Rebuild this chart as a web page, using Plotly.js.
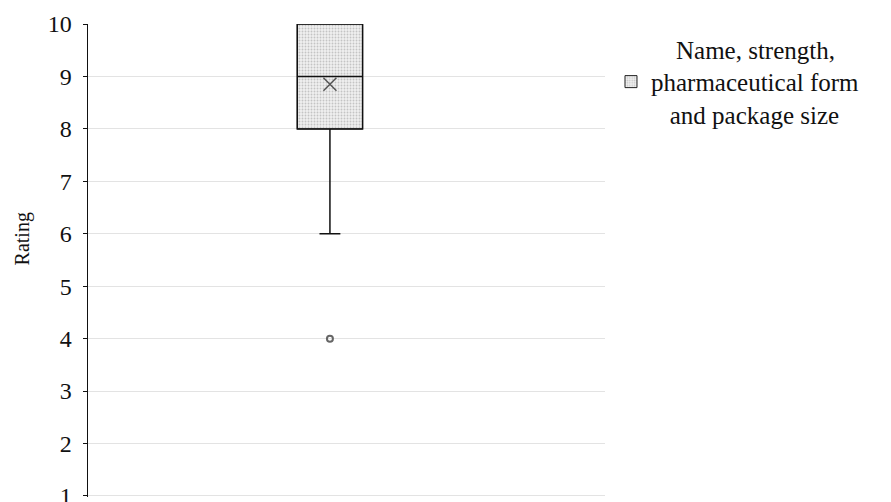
<!DOCTYPE html>
<html>
<head>
<meta charset="utf-8">
<script src="https://cdn.plot.ly/plotly-3.0.1.min.js"></script>
<style>html,body{margin:0;padding:0;background:#fff;}#chart{width:891px;height:502px;}</style>
</head>
<body>
<div id="chart"></div>
<script>
// Data
const seriesName = "\u00a0\u00a0\u00a0\u00a0Name, strength,<br>pharmaceutical form<br>\u00a0\u00a0\u00a0and package size";
const boxX = [0];
const q1 = [8];
const median = [9];
const q3 = [10];
const lowerFence = [6];
const upperFence = [10];
const meanValue = [8.85];
const outliers = [4];
const yTicks = [1, 2, 3, 4, 5, 6, 7, 8, 9, 10];

const serif = "Liberation Serif, Times New Roman, serif";
const boxWidth = 0.27;

const traces = [
  {
    type: 'bar',
    name: seriesName,
    x: boxX,
    base: q1,
    y: q3.map((v, i) => v - q1[i]),
    width: [boxWidth],
    marker: {
      color: '#efefef',
      line: {color: '#222', width: 1},
      pattern: {shape: '.', fgcolor: '#c4c4c4', bgcolor: '#f0f0f0', size: 3, solidity: 0.3}
    },
    showlegend: true,
    hoverinfo: 'skip'
  },
  {
    type: 'box',
    name: 'box',
    x: boxX,
    q1: q1,
    median: median,
    q3: q3,
    lowerfence: lowerFence,
    upperfence: upperFence,
    width: boxWidth,
    whiskerwidth: 0.32,
    boxpoints: false,
    fillcolor: 'rgba(0,0,0,0)',
    line: {color: '#111', width: 1.5},
    showlegend: false,
    hoverinfo: 'skip'
  },
  {
    type: 'scatter',
    mode: 'markers',
    x: boxX,
    y: meanValue,
    marker: {symbol: 'x-thin-open', size: 13, color: '#555', line: {color: '#555', width: 1.5}},
    showlegend: false,
    hoverinfo: 'skip'
  },
  {
    type: 'scatter',
    mode: 'markers',
    x: outliers.map(() => boxX[0]),
    y: outliers,
    marker: {symbol: 'circle-open', size: 6, color: '#666', line: {color: '#666', width: 2}},
    showlegend: false,
    hoverinfo: 'skip'
  }
];

const layout = {
  width: 891,
  height: 502,
  margin: {l: 88, r: 286, t: 24, b: 5},
  paper_bgcolor: '#fff',
  plot_bgcolor: '#fff',
  font: {family: serif, color: '#111'},
  showlegend: true,
  barmode: 'overlay',
  legend: {
    x: 1.0116, xanchor: 'left',
    y: 0.995, yanchor: 'top',
    font: {family: serif, size: 25, color: '#111'},
    bgcolor: 'rgba(0,0,0,0)',
    valign: 'middle'
  },
  xaxis: {
    range: [-1, 1.137],
    showticklabels: false,
    showgrid: false,
    zeroline: false,
    showline: false,
    ticks: '',
    fixedrange: true
  },
  yaxis: {
    range: [0.98, 10],
    tickvals: yTicks,
    ticktext: yTicks.map(String),
    tickfont: {family: serif, size: 24, color: '#111'},
    ticklabeloverflow: 'allow',
    showgrid: true,
    gridcolor: '#e3e3e3',
    gridwidth: 1,
    zeroline: false,
    showline: true,
    linecolor: '#111',
    linewidth: 1.5,
    ticks: 'outside',
    ticklen: 4,
    tickcolor: '#111',
    ticklabelstandoff: 6,
    fixedrange: true
  },
  annotations: [
    {
      text: 'Rating',
      xref: 'paper', yref: 'paper',
      x: -0.1277, y: 0.5466,
      xanchor: 'center', yanchor: 'middle',
      textangle: -90,
      showarrow: false,
      font: {family: serif, size: 20, color: '#111'}
    }
  ]
};

Plotly.newPlot('chart', traces, layout, {displayModeBar: false, staticPlot: true});
</script>
</body>
</html>
